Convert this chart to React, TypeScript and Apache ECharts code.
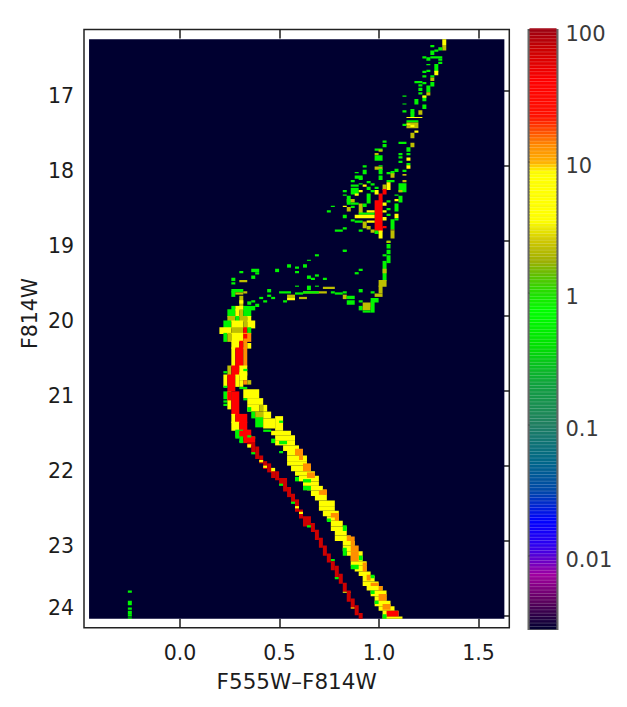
import React, { useEffect, useRef } from "react";
import * as echarts from "echarts";

// Count levels
const G = 0.6, L = 2.2, Y = 5, A = 13, R = 40, D = 70;

// Histogram bins: colour = colorOrigin + colorBin * n, magnitude = magOrigin + magBin * j
const colorOrigin = 0.018, colorBin = 0.02, magOrigin = 16.31, magBin = 0.015;

// Every list holds [nFirst, nLast, jFirst, jLast, count]
const emptyField = [[-23.75, 79.6, 0, 514, 0.00279]];

const upperGiants = [
  [65,65,0,4,Y],[65,65,5,9,L],[62,62,5,6,G],[64,64,7,9,G],[63,63,9,10,G],[62,62,10,13,G],
  [60,60,15,16,G],[61,61,16,18,G],[62,64,15,16,G],[64,64,17,18,G],[64,64,20,21,G],[61,61,22,22,G],
  [63,63,22,28,G],[63,63,28,31,Y],[61,61,27,28,G],[60,60,28,29,G],[60,60,32,33,G],[62,62,32,33,G],
  [62,62,34,36,L],[58,59,37,38,G],[60,60,38,39,G],[62,62,38,41,G],[59,59,40,41,G],[59,59,43,45,G],
  [59,59,47,48,G],[61,61,41,46,G],[61,61,47,49,L],[60,60,50,54,G],[60,60,50,51,Y],[55,55,50,50,G],
  [58,58,53,57,G],[55,55,57,57,G],[60,60,58,61,G],[57,57,62,65,G],[59,59,63,66,L],[55,55,63,64,G],
  [57,57,65,68,G],[56,59,69,69,Y],[56,58,72,73,G],[56,58,74,78,L],[55,55,75,76,G],[56,56,75,75,Y],
  [57,57,76,77,Y],[58,58,81,82,Y],[57,57,83,87,L],[54,55,91,92,G],[57,57,92,95,L],[56,56,96,99,G],
  [54,54,101,102,G],[56,56,101,102,G],[56,56,105,107,Y],[54,54,104,105,G],[54,54,108,109,G],
  [56,56,110,111,G],[56,56,112,114,Y],[55,55,116,117,G],[55,55,120,120,Y],[55,55,125,126,L],
];

const clumpCells = [
  [50,50,90,91,G],[50,50,93,95,G],[48,49,97,98,G],[49,49,98,99,L],[48,48,101,102,L],[48,49,103,107,G],
  [45,45,112,113,G],[48,49,113,115,L],[49,49,112,112,G],[49,49,115,119,G],[53,53,115,117,G],[52,52,117,119,G],
  [51,51,118,119,G],[52,52,119,122,L],[45,45,116,119,G],[43,43,118,118,G],[43,44,121,123,G],[44,44,123,124,G],
  [42,42,125,126,G],[46,46,126,127,G],[47,47,128,129,G],[49,49,121,124,G],[51,52,125,126,G],[51,51,127,133,Y],
  [50,50,129,133,L],[50,50,133,137,R],[54,55,128,135,G],[54,54,134,135,L],[42,43,129,130,G],[45,45,129,130,Y],
  [44,44,128,128,G],[46,46,131,133,G],[48,48,131,132,G],[47,47,134,135,G],[40,40,134,135,G],[42,43,132,137,G],
  [44,44,134,135,Y],[40,40,138,138,G],[43,43,137,138,Y],[49,49,137,143,R],[46,46,137,145,G],[48,48,134,137,Y],
  [53,53,138,138,G],[54,54,139,144,G],[53,53,142,143,Y],[51,51,143,144,G],[41,42,142,144,L],[41,41,139,146,G],
  [42,43,145,146,G],[37,37,148,148,G],[40,40,148,148,Y],[42,42,148,149,G],[44,44,146,154,L],[41,41,149,152,L],
  [45,45,146,148,G],[48,49,143,170,R],[50,50,145,147,Y],[50,50,152,153,Y],[50,50,158,160,Y],[53,53,146,152,G],
  [51,51,150,151,G],[36,36,152,153,G],[53,53,155,158,Y],[53,53,159,160,G],[51,51,155,156,G],[40,40,156,158,G],
  [42,42,160,161,G],[44,47,154,155,G],[46,47,152,153,Y],[43,47,156,158,Y],[46,47,161,162,Y],[43,44,161,162,G],
  [52,52,160,168,G],[52,52,169,169,L],[45,45,162,167,L],[46,46,166,168,L],[47,47,169,171,L],[48,48,170,172,G],
  [50,50,166,167,R],[49,49,167,170,R],[49,49,170,176,Y],[52,52,170,176,L],[38,39,169,170,G],[40,40,167,168,G],
  [44,44,169,170,G],[51,51,179,180,G],[51,51,182,185,G],[40,40,187,187,G],
];

const subgiantCells = [
  [51,51,179,180,L],[51,51,187,190,G],[40,40,187,188,G],[33,33,191,192,G],[50,50,191,192,G],[51,51,192,198,G],
  [50,50,197,214,G],[50,50,204,207,L],[31,31,196,196,G],[26,26,200,202,G],[28,28,202,203,G],[30,30,200,202,G],
  [28,28,206,207,G],[44,44,204,205,G],[43,43,207,208,G],[17,18,204,206,G],[23,23,204,206,G],[14,14,206,207,G],
  [18,18,207,208,G],[33,33,209,210,G],[31,31,210,212,G],[17,17,210,212,G],[32,32,212,213,G],[35,35,212,213,G],
  [12,12,212,214,G],[12,12,216,217,G],[14,15,214,215,L],[28,28,219,219,G],[31,31,219,222,G],[33,33,219,219,G],
  [35,37,220,221,L],[21,21,222,224,G],[49,50,214,219,L],[49,49,219,225,L],[44,44,222,224,G],[40,40,224,225,G],
  [47,47,224,225,G],[24,26,224,225,G],[30,35,224,225,L],[30,33,224,225,G],[37,37,224,225,G],[28,29,225,226,G],
  [38,39,225,226,G],[40,40,227,230,L],[41,42,228,230,G],[48,49,226,228,L],[21,21,227,228,G],[22,22,229,230,G],
  [26,27,227,229,L],[29,30,229,230,L],[26,27,230,231,Y],[25,25,232,233,G],[19,19,229,230,G],[20,20,232,233,G],
  [17,17,232,233,G],[16,16,233,235,G],[18,18,235,237,G],[47,48,230,233,G],[41,42,232,235,G],[44,44,232,233,G],
  [47,47,233,237,G],[45,46,234,237,L],[44,44,237,240,G],[45,46,238,240,L],[47,47,238,242,G],[45,46,241,242,G],
];

const turnoffCells = [
  [12,14,222,224,G],[15,15,224,225,L],[12,12,224,228,G],[13,14,225,226,L],[14,14,228,237,L],[14,14,232,234,Y],
  [15,17,237,240,G],[12,12,237,240,G],[13,14,237,240,Y],[11,12,240,246,G],[13,13,240,246,Y],[14,14,240,246,L],
  [15,16,240,246,G],[11,12,246,250,L],[13,13,246,250,G],[14,15,246,250,L],[16,16,246,250,Y],[10,11,250,256,G],
  [12,14,250,256,Y],[15,15,250,256,L],[16,17,250,256,Y],[9,11,256,261,Y],[12,14,256,261,L],[15,15,256,261,R],
  [16,16,256,261,G],[10,10,261,268,G],[11,11,261,268,L],[12,14,261,268,Y],[15,16,261,268,A],[15,15,262,265,R],
  [12,13,268,274,Y],[14,14,268,274,R],[15,15,268,274,A],[16,16,270,274,Y],[12,12,274,290,Y],[13,14,274,290,R],
  [15,15,274,290,A],[11,11,290,298,L],[12,13,290,298,R],[14,15,290,298,Y],[15,15,293,294,G],
  [10,10,295,296,G],[10,10,298,308,Y],[11,12,298,312,R],[13,13,298,308,Y],[10,10,308,309,G],[10,10,313,319,G],
  [10,10,321,322,G],[10,10,324,325,G],[11,11,313,328,Y],[11,11,313,320,R],[12,13,313,333,R],[12,12,333,340,Y],
  [13,15,333,340,R],[12,13,340,347,Y],[14,15,340,347,R],[13,14,347,353,G],[15,16,347,353,R],[17,17,353,354,G],
  [16,17,353,357,R],[14,14,352,357,G],
];

const sequenceCells = [
  [13,13,348,354,G],[14,15,348,352,R],[15,16,352,358,R],[16,16,352,353,G],[14,14,357,358,G],[16,17,358,361,D],
  [16,16,360,362,Y],[17,17,361,367,D],[18,18,362,372,D],[17,17,367,368,G],[19,19,370,376,D],
  [19,19,374,375,Y],[20,20,375,381,D],[20,20,379,380,Y],[21,21,377,384,D],[22,22,381,384,Y],[22,22,384,389,D],
  [23,23,384,391,D],[24,25,390,395,D],[24,24,395,396,G],[25,25,395,401,D],[26,26,398,406,D],[27,27,404,411,D],
  [27,27,411,412,G],[28,28,409,419,D],[28,28,415,416,Y],[29,29,418,425,D],[29,29,420,421,Y],[30,31,424,432,D],
  [31,31,432,433,G],[32,32,430,437,D],[33,33,436,444,D],[34,34,443,451,D],[35,35,450,458,D],[36,36,457,464,D],
  [37,37,462,463,G],[37,37,464,471,D],[38,38,468,478,D],[38,38,478,479,G],[39,39,475,483,D],[40,40,483,490,D],
  [40,41,491,491,Y],[41,41,490,499,D],[42,42,497,505,D],[42,42,505,505,Y],[43,43,503,511,D],[44,44,510,514,D],
];

const binaryCells = [
  [14,15,296,302,Y],[14,14,303,308,Y],[15,15,303,306,A],[16,16,303,306,L],[14,15,309,310,G],[15,18,311,318,Y],
  [15,15,319,320,G],[16,19,319,324,Y],[16,18,325,330,Y],[19,19,325,330,L],[20,20,325,330,Y],[16,16,327,330,G],
  [17,17,331,336,G],[18,19,331,336,L],[20,21,331,336,Y],[18,19,336,344,G],[20,22,337,345,Y],[23,24,335,347,Y],
  [24,24,339,340,G],[20,21,347,348,G],
  [22,26,348,351,Y],[23,27,352,356,Y],[23,27,357,360,Y],[25,28,361,365,Y],[26,29,366,369,Y],[26,30,370,374,Y],
  [26,30,375,378,Y],[27,31,379,383,Y],[28,32,384,387,Y],[29,33,388,392,Y],[30,33,393,396,Y],[31,34,397,400,Y],
  [32,35,401,405,Y],[33,35,406,409,Y],[34,37,410,414,Y],[34,37,415,418,Y],[35,38,419,423,Y],[36,38,424,427,Y],
  [37,39,428,432,Y],[37,40,433,436,Y],[38,40,437,440,Y],[38,41,441,445,Y],[40,42,446,449,Y],[40,42,450,454,Y],
  [41,44,455,458,Y],[42,44,459,463,Y],[42,45,464,467,Y],[43,45,468,472,Y],[44,46,473,476,Y],[45,47,477,481,Y],
  [45,48,482,485,Y],[46,49,486,489,Y],[47,50,490,494,Y],[48,50,495,498,Y],[48,51,499,503,Y],[49,52,504,507,Y],
  [50,53,508,512,Y],[50,54,513,514,Y],
  [22,22,355,358,G],[24,25,357,359,G],[24,24,366,367,G],[28,29,364,369,A],[29,29,370,373,A],[30,31,377,383,A],
  [31,32,385,389,A],[28,28,389,392,G],[30,31,391,393,G],[30,31,397,400,G],[35,35,400,404,A],[34,35,401,404,A],
  [37,38,421,424,A],[38,38,424,427,A],[36,36,426,428,G],[40,40,432,436,G],[41,41,441,445,A],[42,42,442,449,A],
  [42,43,450,454,A],[40,40,452,458,G],[44,44,459,462,G],[42,43,455,463,A],[45,45,465,467,A],[42,43,467,470,G],
  [45,45,468,472,A],[46,46,476,480,A],[47,47,476,478,G],[47,48,483,485,A],[49,49,486,489,A],[49,50,493,498,A],
  [47,47,490,492,G],[50,51,502,506,A],[48,48,499,501,G],[51,53,508,512,R],[50,50,511,514,G],
];

const blueStragglers = [
  [-14,-14,490,491,G],[-14,-14,499,502,G],[-14,-14,505,506,G],[-14,-14,508,510,G],[-14,-14,511,512,G],[-14,-14,514,514,G],
];

const colorTicks = [0, 0.5, 1, 1.5];
const magTicks = [17, 18, 19, 20, 21, 22, 23, 24];
const colorBarMin = 0.00279;
const colorBarMax = 100;

// Colour map: [log10(count), colour]
const colorStops: [number, string][] = [
  [-2.55,"#000030"],[-2.33,"#600060"],[-2.14,"#a000a0"],[-1.92,"#3000f0"],[-1.73,"#0000ff"],[-1.5,"#0048a8"],
  [-1.27,"#006888"],[-0.99,"#208060"],[-0.7,"#10a040"],[-0.4,"#00e000"],[-0.137,"#00ff00"],[0,"#20e000"],
  [0.14,"#60c000"],[0.25,"#a0b000"],[0.4,"#d0c800"],[0.555,"#ffff00"],[0.92,"#ffff00"],[1,"#ffb000"],
  [1.125,"#ff8c00"],[1.26,"#ff4000"],[1.35,"#ff1000"],[1.62,"#ff0000"],[1.85,"#cc0000"],[2,"#a00010"],
];

const parse = (h: string) => [1, 3, 5].map((i) => parseInt(h.slice(i, i + 2), 16));
function countColor(v: number, lighten = 0) {
  const e = Math.log10(v);
  let i = 0;
  while (i < colorStops.length - 2 && e > colorStops[i + 1][0]) i++;
  const [e0, c0] = colorStops[i];
  const [e1, c1] = colorStops[i + 1];
  const t = Math.max(0, Math.min(1, (e - e0) / (e1 - e0)));
  const a = parse(c0), b = parse(c1);
  const rgb = a.map((x, k) => x + (b[k] - x) * t).map((x) => Math.round(x + (255 - x) * lighten));
  return `rgb(${rgb.join(",")})`;
}

const toBox = (list: number[][]) =>
  list.map(([n0, n1, j0, j1, v]) => [
    colorOrigin + colorBin * n0,
    colorOrigin + colorBin * (n1 + 1),
    magOrigin + magBin * j0,
    magOrigin + magBin * (j1 + 1),
    v,
  ]);

const renderCell = (_: any, api: any) => {
  const a = api.coord([api.value(0), api.value(2)]);
  const b = api.coord([api.value(1), api.value(3)]);
  return {
    type: "rect",
    shape: { x: a[0], y: a[1], width: b[0] - a[0], height: b[1] - a[1] },
    style: { fill: countColor(api.value(4)) },
  };
};

const cellSeries = (name: string, list: number[][]) => ({
  name,
  type: "custom",
  xAxisIndex: 0,
  yAxisIndex: 0,
  silent: true,
  clip: true,
  renderItem: renderCell,
  encode: { x: [0, 1], y: [2, 3] },
  data: toBox(list),
});

// Colour-bar strips on its log axis
const barExponents: number[] = [];
for (let e = Math.log10(colorBarMin); e < 2; e += 0.0251) barExponents.push(e);

const renderStrip = (_: any, api: any) => {
  const e = api.value(0);
  const a = api.coord([0.04, Math.pow(10, e + 0.0251)]);
  const b = api.coord([0.96, Math.pow(10, e)]);
  const h = b[1] - a[1];
  const v = Math.pow(10, e + 0.0125);
  return {
    type: "group",
    children: [
      { type: "rect", shape: { x: a[0], y: a[1], width: b[0] - a[0], height: h + 0.3 }, style: { fill: countColor(v) } },
      { type: "rect", shape: { x: a[0], y: a[1], width: b[0] - a[0], height: 1 }, style: { fill: countColor(v, 0.3) } },
    ],
  };
};

const FONT = "DejaVu Sans";
const INK = "#1c1c1c";

export default function App() {
  const ref = useRef<HTMLDivElement>(null);
  useEffect(() => {
    const chart = echarts.init(ref.current!, undefined, { renderer: "svg" });
    const xRange = { min: -0.4824, max: 1.6548 };
    const yRange = { min: 16.18, max: 24.156 };
    const lineStyle = { color: INK, width: 1.5 };
    chart.setOption({
      animation: false,
      backgroundColor: "#ffffff",
      grid: [
        { left: 84, top: 29.5, width: 425.3, height: 598.2, show: true, borderColor: "#222222", borderWidth: 1.5, backgroundColor: "#ffffff", containLabel: false },
        { left: 528.5, top: 30, width: 29, height: 599, show: true, borderColor: "#666666", borderWidth: 2, backgroundColor: "#666666", containLabel: false },
      ],
      graphic: [
        {
          type: "text", x: 30, y: 313.5, rotation: Math.PI / 2, silent: true,
          style: { text: "F814W", fontFamily: FONT, fontSize: 20.5, fill: INK, align: "center", verticalAlign: "middle" },
        },
      ],
      xAxis: [
        {
          type: "value", gridIndex: 0, position: "bottom", ...xRange,
          name: "F555W\u2013F814W", nameLocation: "middle", nameGap: 43,
          nameTextStyle: { fontFamily: FONT, fontSize: 21.5, color: INK },
          splitLine: { show: false }, axisLine: { show: false },
          axisTick: { inside: true, length: 9, lineStyle, customValues: colorTicks },
          axisLabel: { fontFamily: FONT, fontSize: 20.5, color: INK, margin: 15, customValues: colorTicks, formatter: (v: number) => v.toFixed(1) },
        },
        {
          type: "value", gridIndex: 0, position: "top", ...xRange,
          splitLine: { show: false }, axisLine: { show: false },
          axisTick: { inside: true, length: 9, lineStyle, customValues: colorTicks },
          axisLabel: { show: false },
        },
        { type: "value", gridIndex: 1, min: 0, max: 1, show: false },
      ],
      yAxis: [
        {
          type: "value", gridIndex: 0, position: "left", inverse: true, ...yRange,
          splitLine: { show: false }, axisLine: { show: false },
          axisTick: { inside: false, length: 2, lineStyle, customValues: magTicks },
          axisLabel: {
            fontFamily: FONT, fontSize: 20.5, color: INK, margin: 10, verticalAlign: "top", lineHeight: 10,
            verticalAlignMaxLabel: "bottom", customValues: magTicks,
            formatter: (v: number) => (v === 24 ? `{last|${v}}` : String(v)),
            rich: { last: { fontFamily: FONT, fontSize: 20.5, color: INK, lineHeight: 17 } },
          },
        },
        {
          type: "value", gridIndex: 0, position: "left", inverse: true, ...yRange,
          splitLine: { show: false }, axisLine: { show: false },
          axisTick: { inside: true, length: 6, lineStyle, customValues: magTicks },
          axisLabel: { show: false },
        },
        {
          type: "value", gridIndex: 0, position: "right", inverse: true, ...yRange,
          splitLine: { show: false }, axisLine: { show: false },
          axisTick: { inside: true, length: 6, lineStyle, customValues: magTicks },
          axisLabel: { show: false },
        },
        {
          type: "log", logBase: 10, gridIndex: 1, position: "right", min: colorBarMin, max: colorBarMax,
          splitLine: { show: false }, axisLine: { show: false },
          axisTick: { inside: false, length: 5, lineStyle: { color: "#444444", width: 1.5 } },
          axisLabel: {
            fontFamily: FONT, fontSize: 21, color: "#3a3a3a", margin: 8, verticalAlign: "top", lineHeight: 8, showMinLabel: false,
            formatter: (v: number) => String(Number(v.toPrecision(3))),
          },
        },
      ],
      series: [
        cellSeries("empty", emptyField),
        cellSeries("upper giants", upperGiants),
        cellSeries("clump", clumpCells),
        cellSeries("subgiants", subgiantCells),
        cellSeries("binaries", binaryCells),
        cellSeries("turnoff", turnoffCells),
        cellSeries("sequence", sequenceCells),
        cellSeries("blue stragglers", blueStragglers),
        {
          type: "custom", xAxisIndex: 2, yAxisIndex: 3, silent: true, clip: false,
          renderItem: renderStrip,
          encode: { x: [], y: [] },
          data: barExponents.map((e) => [e]),
        },
      ],
    });
    return () => chart.dispose();
  }, []);
  return <div ref={ref} style={{ width: 627, height: 707, position: "absolute", left: 0, top: 0 }} />;
}
